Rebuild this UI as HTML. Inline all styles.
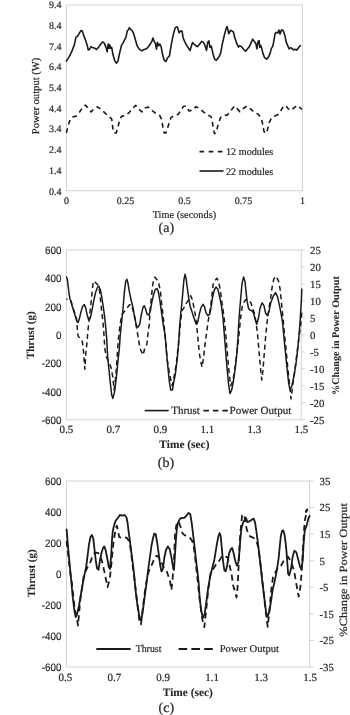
<!DOCTYPE html>
<html><head><meta charset="utf-8"><title>Chart</title>
<style>
html,body{margin:0;padding:0;background:#fff;}
body{width:350px;height:715px;overflow:hidden;font-family:"Liberation Serif", serif;}
svg{display:block;}
</style></head>
<body>
<svg width="350" height="715" viewBox="0 0 350 715" style="will-change:transform">
<rect x="0" y="0" width="350" height="715" fill="#fff"/>
<rect x="66.5" y="5.0" width="236.0" height="185.7" fill="none" stroke="#d3d3d3" stroke-width="1"/>
<text x="61.5" y="8.1" font-size="10" font-family='"Liberation Serif", serif' text-anchor="end" font-weight="normal" fill="#262626" stroke="#262626" stroke-width="0.2" text-rendering="geometricPrecision" >9.4</text>
<text x="61.5" y="28.83" font-size="10" font-family='"Liberation Serif", serif' text-anchor="end" font-weight="normal" fill="#262626" stroke="#262626" stroke-width="0.2" text-rendering="geometricPrecision" >8.4</text>
<text x="61.5" y="49.56" font-size="10" font-family='"Liberation Serif", serif' text-anchor="end" font-weight="normal" fill="#262626" stroke="#262626" stroke-width="0.2" text-rendering="geometricPrecision" >7.4</text>
<text x="61.5" y="70.28999999999999" font-size="10" font-family='"Liberation Serif", serif' text-anchor="end" font-weight="normal" fill="#262626" stroke="#262626" stroke-width="0.2" text-rendering="geometricPrecision" >6.4</text>
<text x="61.5" y="91.02" font-size="10" font-family='"Liberation Serif", serif' text-anchor="end" font-weight="normal" fill="#262626" stroke="#262626" stroke-width="0.2" text-rendering="geometricPrecision" >5.4</text>
<text x="61.5" y="111.75" font-size="10" font-family='"Liberation Serif", serif' text-anchor="end" font-weight="normal" fill="#262626" stroke="#262626" stroke-width="0.2" text-rendering="geometricPrecision" >4.4</text>
<text x="61.5" y="132.48" font-size="10" font-family='"Liberation Serif", serif' text-anchor="end" font-weight="normal" fill="#262626" stroke="#262626" stroke-width="0.2" text-rendering="geometricPrecision" >3.4</text>
<text x="61.5" y="153.21" font-size="10" font-family='"Liberation Serif", serif' text-anchor="end" font-weight="normal" fill="#262626" stroke="#262626" stroke-width="0.2" text-rendering="geometricPrecision" >2.4</text>
<text x="61.5" y="173.94" font-size="10" font-family='"Liberation Serif", serif' text-anchor="end" font-weight="normal" fill="#262626" stroke="#262626" stroke-width="0.2" text-rendering="geometricPrecision" >1.4</text>
<text x="61.5" y="194.67" font-size="10" font-family='"Liberation Serif", serif' text-anchor="end" font-weight="normal" fill="#262626" stroke="#262626" stroke-width="0.2" text-rendering="geometricPrecision" >0.4</text>
<text x="66.5" y="203.8" font-size="10" font-family='"Liberation Serif", serif' text-anchor="middle" font-weight="normal" fill="#262626" stroke="#262626" stroke-width="0.2" text-rendering="geometricPrecision" >0</text>
<text x="125.5" y="203.8" font-size="10" font-family='"Liberation Serif", serif' text-anchor="middle" font-weight="normal" fill="#262626" stroke="#262626" stroke-width="0.2" text-rendering="geometricPrecision" >0.25</text>
<text x="184.5" y="203.8" font-size="10" font-family='"Liberation Serif", serif' text-anchor="middle" font-weight="normal" fill="#262626" stroke="#262626" stroke-width="0.2" text-rendering="geometricPrecision" >0.5</text>
<text x="243.5" y="203.8" font-size="10" font-family='"Liberation Serif", serif' text-anchor="middle" font-weight="normal" fill="#262626" stroke="#262626" stroke-width="0.2" text-rendering="geometricPrecision" >0.75</text>
<text x="302.5" y="203.8" font-size="10" font-family='"Liberation Serif", serif' text-anchor="middle" font-weight="normal" fill="#262626" stroke="#262626" stroke-width="0.2" text-rendering="geometricPrecision" >1</text>
<text x="184.4" y="217.8" font-size="10.3" font-family='"Liberation Serif", serif' text-anchor="middle" font-weight="normal" fill="#262626" stroke="#262626" stroke-width="0.2" text-rendering="geometricPrecision" >Time (seconds)</text>
<text transform="translate(34.8,95.9) rotate(-90)" x="0" y="3.71" font-size="10.6" font-family='"Liberation Serif", serif' text-anchor="middle" font-weight="normal" fill="#262626" stroke="#262626" stroke-width="0.2" text-rendering="geometricPrecision" >Power output (W)</text>
<text x="166.3" y="232.3" font-size="14" font-family='"Liberation Serif", serif' text-anchor="middle" font-weight="normal" fill="#262626" stroke="#262626" stroke-width="0.2" text-rendering="geometricPrecision" >(a)</text>
<line x1="199.5" y1="151.6" x2="223.3" y2="151.6" stroke="#1a1a1a" stroke-width="1.6" stroke-dasharray="4.6 4.6"/>
<text x="226" y="155.2" font-size="10.2" font-family='"Liberation Serif", serif' text-anchor="start" font-weight="normal" fill="#262626" stroke="#262626" stroke-width="0.2" text-rendering="geometricPrecision" >12 modules</text>
<line x1="199.5" y1="171" x2="223.5" y2="171" stroke="#1a1a1a" stroke-width="1.6"/>
<text x="226" y="174.6" font-size="10.2" font-family='"Liberation Serif", serif' text-anchor="start" font-weight="normal" fill="#262626" stroke="#262626" stroke-width="0.2" text-rendering="geometricPrecision" >22 modules</text>
<polyline points="66.4,61.1 69.1,56.9 71.7,51.7 74.3,44.9 76.0,37.1 77.4,36.3 78.6,34.6 79.4,32.9 81.1,30.6 82.3,31.1 83.7,35.4 85.4,39.7 87.1,44.9 88.3,50.0 89.7,49.1 91.1,46.6 92.3,47.4 94.9,48.3 96.6,49.5 99.1,46.6 100.9,44.0 102.6,41.9 104.3,43.1 106.0,47.4 107.2,51.7 108.2,44.0 109.1,48.3 109.8,44.9 110.6,48.3 111.7,47.4 112.9,54.3 114.6,60.3 116.3,63.2 118.0,61.1 119.7,52.6 121.4,45.7 123.3,42.3 126.0,37.1 127.2,31.1 128.6,29.4 129.4,27.7 130.6,29.4 132.0,30.3 133.7,33.7 135.4,39.7 137.1,45.7 139.2,49.1 141.9,50.9 144.0,49.5 146.6,48.8 149.1,45.7 151.7,41.9 152.9,38.0 154.3,41.4 155.5,44.0 156.5,49.1 157.4,42.3 158.6,45.7 159.8,44.0 161.1,46.6 162.5,54.3 164.2,60.3 165.9,61.5 167.7,57.7 169.4,56.0 171.1,45.7 173.1,35.4 175.2,27.7 176.9,26.9 177.7,27.7 179.1,32.9 180.3,31.1 182.0,31.1 183.2,38.0 184.6,41.4 186.6,45.4 188.9,48.8 190.1,50.5 191.4,45.7 192.6,42.6 194.0,44.0 196.2,46.1 197.4,46.6 199.7,44.0 201.7,41.4 203.4,42.3 205.1,45.7 206.5,50.5 207.7,42.3 208.9,40.9 209.9,47.4 211.3,46.1 212.9,53.4 214.6,59.1 216.3,60.3 218.9,56.9 220.6,53.4 222.3,44.0 224.3,35.4 226.1,28.6 227.1,26.5 228.8,33.7 230.5,30.3 232.2,31.1 233.4,32.0 234.6,37.1 236.3,42.3 238.5,47.1 239.7,45.7 241.4,46.6 243.1,48.8 245.4,51.2 247.4,49.1 249.1,47.1 250.9,43.1 252.6,39.2 254.3,41.4 256.0,44.0 256.9,48.8 258.1,41.4 259.1,40.6 259.8,47.4 260.8,45.4 261.5,47.4 262.9,53.4 264.6,57.7 266.6,59.1 268.3,57.4 270.1,53.4 271.4,48.4 272.9,46.1 274.0,39.9 275.1,33.6 276.3,32.4 277.8,33.0 278.9,30.1 280.1,34.1 281.4,30.1 282.8,30.1 283.9,32.4 285.1,36.4 286.2,42.1 287.7,45.6 289.2,49.0 290.6,47.6 291.9,48.4 293.4,49.9 294.9,49.2 296.5,50.1 298.0,48.4 299.5,46.5 300.3,45.6" fill="none" stroke="#1a1a1a" stroke-width="1.6" stroke-linejoin="round" stroke-linecap="round"/>
<polyline points="66.4,132.9 67.8,126.9 70.0,120.0 72.2,117.1 76.3,116.1 79.4,112.3 82.5,107.5 85.4,105.1 88.0,108.0 91.1,111.9 94.0,108.9 97.4,106.8 100.9,109.2 105.1,113.1 108.9,116.1 111.7,119.1 112.9,128.6 114.1,132.9 116.3,132.9 118.0,126.9 119.7,120.0 121.4,116.6 124.0,115.7 126.0,115.4 129.4,112.3 132.9,108.0 135.8,105.4 138.5,108.9 141.9,111.9 144.9,108.0 148.3,107.1 152.2,110.6 156.0,113.7 159.8,115.7 161.5,119.1 162.9,126.9 164.2,132.9 165.9,132.9 167.7,127.7 169.7,120.9 171.1,117.4 174.5,115.7 178.3,114.3 181.1,109.7 183.7,106.3 186.6,106.3 188.9,110.9 192.3,110.2 196.2,106.6 200.0,108.9 203.4,111.9 207.7,114.9 211.1,116.6 212.3,121.7 213.4,129.4 214.6,133.7 216.3,132.0 218.0,125.1 220.6,117.4 223.1,115.7 227.4,114.9 230.9,110.6 234.5,106.0 237.1,108.5 239.8,111.6 243.3,108.5 246.8,106.0 250.5,108.9 254.2,112.2 258.3,114.3 261.2,117.8 262.9,125.0 263.9,131.1 265.3,133.6 267.4,130.1 269.0,122.9 271.1,118.8 274.2,116.3 277.7,114.7 280.3,111.6 283.4,106.5 285.5,105.4 288.0,108.5 290.6,110.6 293.7,108.1 296.8,105.6 299.9,107.5 302.0,109.5" fill="none" stroke="#1a1a1a" stroke-width="1.6" stroke-dasharray="4.8 3.8" stroke-linejoin="round"/>
<rect x="66.4" y="250.0" width="234.9" height="169.8" fill="none" stroke="#d3d3d3" stroke-width="1"/>
<text transform="translate(61.5,253.79999999999998) scale(0.91,1)" x="0" y="0" font-size="10.8" font-family='"Liberation Sans", sans-serif' text-anchor="end" fill="#262626" stroke="#262626" stroke-width="0.16" text-rendering="geometricPrecision">600</text>
<text transform="translate(61.5,282.17) scale(0.91,1)" x="0" y="0" font-size="10.8" font-family='"Liberation Sans", sans-serif' text-anchor="end" fill="#262626" stroke="#262626" stroke-width="0.16" text-rendering="geometricPrecision">400</text>
<text transform="translate(61.5,310.54) scale(0.91,1)" x="0" y="0" font-size="10.8" font-family='"Liberation Sans", sans-serif' text-anchor="end" fill="#262626" stroke="#262626" stroke-width="0.16" text-rendering="geometricPrecision">200</text>
<text transform="translate(61.5,338.91) scale(0.91,1)" x="0" y="0" font-size="10.8" font-family='"Liberation Sans", sans-serif' text-anchor="end" fill="#262626" stroke="#262626" stroke-width="0.16" text-rendering="geometricPrecision">0</text>
<text transform="translate(61.5,367.28000000000003) scale(0.91,1)" x="0" y="0" font-size="10.8" font-family='"Liberation Sans", sans-serif' text-anchor="end" fill="#262626" stroke="#262626" stroke-width="0.16" text-rendering="geometricPrecision">-200</text>
<text transform="translate(61.5,395.65) scale(0.91,1)" x="0" y="0" font-size="10.8" font-family='"Liberation Sans", sans-serif' text-anchor="end" fill="#262626" stroke="#262626" stroke-width="0.16" text-rendering="geometricPrecision">-400</text>
<text transform="translate(61.5,424.02) scale(0.91,1)" x="0" y="0" font-size="10.8" font-family='"Liberation Sans", sans-serif' text-anchor="end" fill="#262626" stroke="#262626" stroke-width="0.16" text-rendering="geometricPrecision">-600</text>
<line x1="301.3" y1="250.0" x2="304.9" y2="250.0" stroke="#d3d3d3" stroke-width="1"/>
<text x="310" y="253.5" font-size="10.8" font-family='"Liberation Serif", serif' text-anchor="start" font-weight="normal" fill="#262626" stroke="#262626" stroke-width="0.2" text-rendering="geometricPrecision" >25</text>
<line x1="301.3" y1="267.0" x2="304.9" y2="267.0" stroke="#d3d3d3" stroke-width="1"/>
<text x="310" y="270.54999999999995" font-size="10.8" font-family='"Liberation Serif", serif' text-anchor="start" font-weight="normal" fill="#262626" stroke="#262626" stroke-width="0.2" text-rendering="geometricPrecision" >20</text>
<line x1="301.3" y1="284.0" x2="304.9" y2="284.0" stroke="#d3d3d3" stroke-width="1"/>
<text x="310" y="287.59999999999997" font-size="10.8" font-family='"Liberation Serif", serif' text-anchor="start" font-weight="normal" fill="#262626" stroke="#262626" stroke-width="0.2" text-rendering="geometricPrecision" >15</text>
<line x1="301.3" y1="300.9" x2="304.9" y2="300.9" stroke="#d3d3d3" stroke-width="1"/>
<text x="310" y="304.65" font-size="10.8" font-family='"Liberation Serif", serif' text-anchor="start" font-weight="normal" fill="#262626" stroke="#262626" stroke-width="0.2" text-rendering="geometricPrecision" >10</text>
<line x1="301.3" y1="317.9" x2="304.9" y2="317.9" stroke="#d3d3d3" stroke-width="1"/>
<text x="310" y="321.7" font-size="10.8" font-family='"Liberation Serif", serif' text-anchor="start" font-weight="normal" fill="#262626" stroke="#262626" stroke-width="0.2" text-rendering="geometricPrecision" >5</text>
<line x1="301.3" y1="334.9" x2="304.9" y2="334.9" stroke="#d3d3d3" stroke-width="1"/>
<text x="310" y="338.75" font-size="10.8" font-family='"Liberation Serif", serif' text-anchor="start" font-weight="normal" fill="#262626" stroke="#262626" stroke-width="0.2" text-rendering="geometricPrecision" >0</text>
<line x1="301.3" y1="351.9" x2="304.9" y2="351.9" stroke="#d3d3d3" stroke-width="1"/>
<text x="310" y="355.79999999999995" font-size="10.8" font-family='"Liberation Serif", serif' text-anchor="start" font-weight="normal" fill="#262626" stroke="#262626" stroke-width="0.2" text-rendering="geometricPrecision" >-5</text>
<line x1="301.3" y1="368.9" x2="304.9" y2="368.9" stroke="#d3d3d3" stroke-width="1"/>
<text x="310" y="372.84999999999997" font-size="10.8" font-family='"Liberation Serif", serif' text-anchor="start" font-weight="normal" fill="#262626" stroke="#262626" stroke-width="0.2" text-rendering="geometricPrecision" >-10</text>
<line x1="301.3" y1="385.8" x2="304.9" y2="385.8" stroke="#d3d3d3" stroke-width="1"/>
<text x="310" y="389.9" font-size="10.8" font-family='"Liberation Serif", serif' text-anchor="start" font-weight="normal" fill="#262626" stroke="#262626" stroke-width="0.2" text-rendering="geometricPrecision" >-15</text>
<line x1="301.3" y1="402.8" x2="304.9" y2="402.8" stroke="#d3d3d3" stroke-width="1"/>
<text x="310" y="406.95" font-size="10.8" font-family='"Liberation Serif", serif' text-anchor="start" font-weight="normal" fill="#262626" stroke="#262626" stroke-width="0.2" text-rendering="geometricPrecision" >-20</text>
<line x1="301.3" y1="419.8" x2="304.9" y2="419.8" stroke="#d3d3d3" stroke-width="1"/>
<text x="310" y="424.0" font-size="10.8" font-family='"Liberation Serif", serif' text-anchor="start" font-weight="normal" fill="#262626" stroke="#262626" stroke-width="0.2" text-rendering="geometricPrecision" >-25</text>
<text x="66.4" y="433.0" font-size="11" font-family='"Liberation Serif", serif' text-anchor="middle" font-weight="normal" fill="#262626" stroke="#262626" stroke-width="0.2" text-rendering="geometricPrecision" >0.5</text>
<text x="113.38000000000001" y="433.0" font-size="11" font-family='"Liberation Serif", serif' text-anchor="middle" font-weight="normal" fill="#262626" stroke="#262626" stroke-width="0.2" text-rendering="geometricPrecision" >0.7</text>
<text x="160.36" y="433.0" font-size="11" font-family='"Liberation Serif", serif' text-anchor="middle" font-weight="normal" fill="#262626" stroke="#262626" stroke-width="0.2" text-rendering="geometricPrecision" >0.9</text>
<text x="207.34" y="433.0" font-size="11" font-family='"Liberation Serif", serif' text-anchor="middle" font-weight="normal" fill="#262626" stroke="#262626" stroke-width="0.2" text-rendering="geometricPrecision" >1.1</text>
<text x="254.32000000000002" y="433.0" font-size="11" font-family='"Liberation Serif", serif' text-anchor="middle" font-weight="normal" fill="#262626" stroke="#262626" stroke-width="0.2" text-rendering="geometricPrecision" >1.3</text>
<text x="301.3" y="433.0" font-size="11" font-family='"Liberation Serif", serif' text-anchor="middle" font-weight="normal" fill="#262626" stroke="#262626" stroke-width="0.2" text-rendering="geometricPrecision" >1.5</text>
<text transform="translate(30.6,335.2) rotate(-90)" x="0" y="3.85" font-size="11" font-family='"Liberation Serif", serif' text-anchor="middle" font-weight="bold" fill="#262626" stroke="#262626" stroke-width="0.05" text-rendering="geometricPrecision" textLength="47.6" lengthAdjust="spacingAndGlyphs">Thrust (g)</text>
<text transform="translate(335.8,335.6) rotate(-90)" x="0" y="3.57" font-size="10.2" font-family='"Liberation Serif", serif' text-anchor="middle" font-weight="bold" fill="#262626" stroke="#262626" stroke-width="0.05" text-rendering="geometricPrecision" textLength="118.8" lengthAdjust="spacingAndGlyphs">%Change in Power Output</text>
<text x="184.4" y="448.0" font-size="11.4" font-family='"Liberation Serif", serif' text-anchor="middle" font-weight="bold" fill="#262626" stroke="#262626" stroke-width="0.05" text-rendering="geometricPrecision" >Time (sec)</text>
<text x="166" y="466.6" font-size="14" font-family='"Liberation Serif", serif' text-anchor="middle" font-weight="normal" fill="#262626" stroke="#262626" stroke-width="0.2" text-rendering="geometricPrecision" >(b)</text>
<line x1="144.7" y1="410.6" x2="168.7" y2="410.6" stroke="#1a1a1a" stroke-width="1.6"/>
<text x="171.2" y="414.3" font-size="11" font-family='"Liberation Serif", serif' text-anchor="start" font-weight="normal" fill="#262626" stroke="#262626" stroke-width="0.2" text-rendering="geometricPrecision" >Thrust</text>
<line x1="203.4" y1="410.6" x2="228" y2="410.6" stroke="#1a1a1a" stroke-width="1.6" stroke-dasharray="5.5 4"/>
<text x="229.5" y="414.3" font-size="11" font-family='"Liberation Serif", serif' text-anchor="start" font-weight="normal" fill="#262626" stroke="#262626" stroke-width="0.2" text-rendering="geometricPrecision" textLength="61.8" lengthAdjust="spacingAndGlyphs">Power Output</text>
<polyline points="66.6,276.9 67.4,280.0 68.3,287.0 69.2,294.5 70.0,299.0 71.0,301.5 72.0,305.5 73.3,309.3 74.7,314.3 76.9,321.4 78.1,322.5 79.4,318.6 80.9,312.1 82.6,306.4 84.3,304.6 85.7,307.9 86.9,313.6 88.3,318.9 89.4,320.0 90.9,315.7 92.3,308.6 94.0,299.3 95.7,292.1 97.6,287.1 99.0,286.4 100.4,290.0 101.9,297.9 103.3,307.1 104.7,317.1 105.7,327.1 106.6,337.1 107.7,357.3 108.9,369.3 110.3,383.0 111.7,395.0 112.9,398.4 114.6,391.6 116.3,377.9 118.0,360.7 119.3,348.6 120.3,334.3 121.4,324.3 122.9,310.0 124.3,292.9 125.7,281.4 126.9,279.3 127.9,282.9 129.3,291.4 131.1,300.0 132.9,307.1 134.6,317.1 136.4,325.7 137.9,327.1 139.7,324.3 141.4,314.3 143.1,307.1 144.3,305.7 145.7,309.3 147.1,314.3 148.9,315.0 150.3,311.4 151.7,302.9 153.6,294.3 155.4,289.3 157.1,288.6 158.1,290.7 159.6,298.6 161.0,308.6 162.4,318.6 163.9,328.6 165.0,334.3 166.4,351.4 167.9,367.1 169.3,381.4 170.7,390.0 172.4,390.0 173.6,382.9 175.3,374.3 177.1,360.0 178.6,344.3 179.6,327.1 180.7,314.3 181.9,302.9 182.9,291.4 183.9,280.0 185.0,274.3 186.1,278.6 187.1,286.4 188.6,297.1 190.0,305.7 191.9,311.4 193.6,317.1 195.7,322.9 196.7,324.3 197.9,321.4 199.3,314.3 201.2,307.1 203.1,304.3 204.6,307.1 206.0,312.9 207.9,315.7 209.7,314.3 211.1,307.1 212.6,297.1 214.3,290.0 216.0,287.1 217.9,289.3 219.7,297.1 221.4,305.7 223.0,318.0 224.3,334.3 225.7,351.4 227.1,368.6 228.6,384.3 230.0,393.6 231.7,390.0 233.6,380.0 235.4,367.1 236.9,352.9 237.9,338.6 238.8,322.0 239.7,310.0 240.9,295.7 242.1,282.9 243.6,277.1 245.0,281.4 246.0,291.4 247.1,301.4 248.6,308.6 250.5,310.4 252.3,311.0 253.5,313.0 254.9,318.3 256.7,324.3 258.4,318.3 260.1,308.0 262.1,302.9 263.9,305.4 265.6,313.1 267.3,315.7 269.0,311.4 270.7,302.9 273.3,296.0 275.5,292.6 277.6,296.9 279.3,304.6 281.0,313.1 282.7,323.4 283.6,333.7 285.3,350.9 287.0,368.0 288.7,383.4 289.9,389.4 291.6,386.9 293.9,376.6 296.1,362.9 298.1,345.7 299.6,328.0 300.7,312.0 301.5,298.0 301.8,289.0" fill="none" stroke="#1a1a1a" stroke-width="1.5" stroke-linejoin="round" stroke-linecap="round"/>
<polyline points="66.4,299.3 68.2,299.3 69.9,299.6 71.1,301.5 71.9,304.3 72.6,307.9 73.7,310.0 75.4,314.3 76.6,319.3 77.1,325.7 77.6,332.9 78.3,336.4 80.4,338.6 82.3,341.4 83.2,348.0 84.2,360.7 84.9,369.3 85.9,352.1 87.1,341.9 87.6,334.3 88.6,324.3 89.7,314.3 90.9,304.3 91.9,294.3 92.9,284.3 93.7,281.1 95.7,282.9 98.0,285.0 99.4,290.0 100.4,298.6 101.4,308.6 102.6,318.6 103.8,332.0 104.8,348.7 106.5,357.3 108.9,362.4 111.1,367.6 112.9,377.9 114.1,389.9 115.4,379.6 116.3,369.3 117.1,357.3 118.3,340.0 119.3,331.4 120.3,322.9 122.1,314.3 125.7,310.0 129.3,305.0 131.1,304.3 133.0,310.0 135.0,318.0 136.4,327.1 137.9,335.7 139.3,344.3 140.7,350.0 143.1,355.0 145.0,347.1 146.9,344.3 147.9,334.3 149.3,324.3 150.0,310.0 151.4,297.1 152.6,285.7 153.6,280.0 155.0,277.1 157.1,280.0 159.0,284.3 160.4,291.4 161.4,301.4 162.9,314.3 164.3,327.1 165.7,341.4 167.1,358.6 169.3,372.9 172.1,385.7 174.3,375.7 176.4,362.9 177.9,348.6 179.3,336.0 180.7,320.0 182.1,310.7 184.3,307.1 186.1,303.6 189.3,298.6 190.7,295.7 191.9,298.6 193.3,304.3 195.0,312.9 196.4,322.9 197.6,335.0 199.3,352.9 200.7,361.4 202.1,367.1 203.6,357.1 205.0,344.3 206.4,334.3 207.9,322.9 209.3,314.3 210.7,305.7 212.1,294.3 213.1,284.3 214.6,281.1 216.9,278.3 218.6,281.4 220.3,290.0 221.4,298.6 222.9,308.6 224.0,317.1 225.0,325.7 226.4,341.4 227.9,360.0 229.3,374.3 230.7,385.7 232.6,381.4 234.3,372.9 236.4,357.1 238.3,341.4 239.3,331.4 240.7,317.1 242.1,307.1 243.6,302.9 245.4,300.0 247.1,299.3 249.3,301.1 251.0,302.9 252.7,308.9 254.4,313.1 256.1,323.4 257.3,332.0 258.4,344.0 259.6,357.7 260.8,371.4 261.8,380.0 263.0,369.7 264.2,354.3 265.6,337.1 266.4,328.6 267.6,318.3 269.0,308.0 270.7,297.7 272.1,287.4 273.8,278.9 275.9,276.3 278.4,280.6 280.1,289.1 281.3,301.1 282.7,314.9 283.6,325.1 285.3,342.3 287.0,359.4 288.7,376.6 290.4,392.0 291.0,398.9 292.7,385.1 294.7,371.4 296.8,354.3 299.0,337.1 300.7,325.1 301.8,312.6" fill="none" stroke="#1a1a1a" stroke-width="1.5" stroke-dasharray="5 3.5" stroke-dashoffset="3.8" stroke-linejoin="round"/>
<rect x="66.5" y="481.0" width="243.10000000000002" height="186.0" fill="none" stroke="#d3d3d3" stroke-width="1"/>
<text transform="translate(61.5,485.1) scale(0.91,1)" x="0" y="0" font-size="10.8" font-family='"Liberation Sans", sans-serif' text-anchor="end" fill="#262626" stroke="#262626" stroke-width="0.16" text-rendering="geometricPrecision">600</text>
<text transform="translate(61.5,516.07) scale(0.91,1)" x="0" y="0" font-size="10.8" font-family='"Liberation Sans", sans-serif' text-anchor="end" fill="#262626" stroke="#262626" stroke-width="0.16" text-rendering="geometricPrecision">400</text>
<text transform="translate(61.5,547.0400000000001) scale(0.91,1)" x="0" y="0" font-size="10.8" font-family='"Liberation Sans", sans-serif' text-anchor="end" fill="#262626" stroke="#262626" stroke-width="0.16" text-rendering="geometricPrecision">200</text>
<text transform="translate(61.5,578.01) scale(0.91,1)" x="0" y="0" font-size="10.8" font-family='"Liberation Sans", sans-serif' text-anchor="end" fill="#262626" stroke="#262626" stroke-width="0.16" text-rendering="geometricPrecision">0</text>
<text transform="translate(61.5,608.98) scale(0.91,1)" x="0" y="0" font-size="10.8" font-family='"Liberation Sans", sans-serif' text-anchor="end" fill="#262626" stroke="#262626" stroke-width="0.16" text-rendering="geometricPrecision">-200</text>
<text transform="translate(61.5,639.95) scale(0.91,1)" x="0" y="0" font-size="10.8" font-family='"Liberation Sans", sans-serif' text-anchor="end" fill="#262626" stroke="#262626" stroke-width="0.16" text-rendering="geometricPrecision">-400</text>
<text transform="translate(61.5,670.92) scale(0.91,1)" x="0" y="0" font-size="10.8" font-family='"Liberation Sans", sans-serif' text-anchor="end" fill="#262626" stroke="#262626" stroke-width="0.16" text-rendering="geometricPrecision">-600</text>
<line x1="309.6" y1="481.0" x2="313.8" y2="481.0" stroke="#d3d3d3" stroke-width="1"/>
<text x="319.5" y="484.8" font-size="10.8" font-family='"Liberation Serif", serif' text-anchor="start" font-weight="normal" fill="#262626" stroke="#262626" stroke-width="0.2" text-rendering="geometricPrecision" >35</text>
<line x1="309.6" y1="507.6" x2="313.8" y2="507.6" stroke="#d3d3d3" stroke-width="1"/>
<text x="319.5" y="511.37142857142857" font-size="10.8" font-family='"Liberation Serif", serif' text-anchor="start" font-weight="normal" fill="#262626" stroke="#262626" stroke-width="0.2" text-rendering="geometricPrecision" >25</text>
<line x1="309.6" y1="534.1" x2="313.8" y2="534.1" stroke="#d3d3d3" stroke-width="1"/>
<text x="319.5" y="537.9428571428571" font-size="10.8" font-family='"Liberation Serif", serif' text-anchor="start" font-weight="normal" fill="#262626" stroke="#262626" stroke-width="0.2" text-rendering="geometricPrecision" >15</text>
<line x1="309.6" y1="560.7" x2="313.8" y2="560.7" stroke="#d3d3d3" stroke-width="1"/>
<text x="319.5" y="564.5142857142856" font-size="10.8" font-family='"Liberation Serif", serif' text-anchor="start" font-weight="normal" fill="#262626" stroke="#262626" stroke-width="0.2" text-rendering="geometricPrecision" >5</text>
<line x1="309.6" y1="587.3" x2="313.8" y2="587.3" stroke="#d3d3d3" stroke-width="1"/>
<text x="319.5" y="591.0857142857143" font-size="10.8" font-family='"Liberation Serif", serif' text-anchor="start" font-weight="normal" fill="#262626" stroke="#262626" stroke-width="0.2" text-rendering="geometricPrecision" >-5</text>
<line x1="309.6" y1="613.9" x2="313.8" y2="613.9" stroke="#d3d3d3" stroke-width="1"/>
<text x="319.5" y="617.6571428571428" font-size="10.8" font-family='"Liberation Serif", serif' text-anchor="start" font-weight="normal" fill="#262626" stroke="#262626" stroke-width="0.2" text-rendering="geometricPrecision" >-15</text>
<line x1="309.6" y1="640.4" x2="313.8" y2="640.4" stroke="#d3d3d3" stroke-width="1"/>
<text x="319.5" y="644.2285714285714" font-size="10.8" font-family='"Liberation Serif", serif' text-anchor="start" font-weight="normal" fill="#262626" stroke="#262626" stroke-width="0.2" text-rendering="geometricPrecision" >-25</text>
<line x1="309.6" y1="667.0" x2="313.8" y2="667.0" stroke="#d3d3d3" stroke-width="1"/>
<text x="319.5" y="670.8" font-size="10.8" font-family='"Liberation Serif", serif' text-anchor="start" font-weight="normal" fill="#262626" stroke="#262626" stroke-width="0.2" text-rendering="geometricPrecision" >-35</text>
<text x="65.4" y="680.6" font-size="11" font-family='"Liberation Serif", serif' text-anchor="middle" font-weight="normal" fill="#262626" stroke="#262626" stroke-width="0.2" text-rendering="geometricPrecision" >0.5</text>
<text x="114.32000000000001" y="680.6" font-size="11" font-family='"Liberation Serif", serif' text-anchor="middle" font-weight="normal" fill="#262626" stroke="#262626" stroke-width="0.2" text-rendering="geometricPrecision" >0.7</text>
<text x="163.24" y="680.6" font-size="11" font-family='"Liberation Serif", serif' text-anchor="middle" font-weight="normal" fill="#262626" stroke="#262626" stroke-width="0.2" text-rendering="geometricPrecision" >0.9</text>
<text x="212.16" y="680.6" font-size="11" font-family='"Liberation Serif", serif' text-anchor="middle" font-weight="normal" fill="#262626" stroke="#262626" stroke-width="0.2" text-rendering="geometricPrecision" >1.1</text>
<text x="261.08000000000004" y="680.6" font-size="11" font-family='"Liberation Serif", serif' text-anchor="middle" font-weight="normal" fill="#262626" stroke="#262626" stroke-width="0.2" text-rendering="geometricPrecision" >1.3</text>
<text x="310.0" y="680.6" font-size="11" font-family='"Liberation Serif", serif' text-anchor="middle" font-weight="normal" fill="#262626" stroke="#262626" stroke-width="0.2" text-rendering="geometricPrecision" >1.5</text>
<text transform="translate(30.8,573.3) rotate(-90)" x="0" y="3.85" font-size="11" font-family='"Liberation Serif", serif' text-anchor="middle" font-weight="bold" fill="#262626" stroke="#262626" stroke-width="0.05" text-rendering="geometricPrecision" textLength="47.8" lengthAdjust="spacingAndGlyphs">Thrust (g)</text>
<text transform="translate(342.7,569.9) rotate(-90)" x="0" y="3.85" font-size="11" font-family='"Liberation Serif", serif' text-anchor="middle" font-weight="normal" fill="#262626" stroke="#262626" stroke-width="0.2" text-rendering="geometricPrecision" textLength="133.5" lengthAdjust="spacingAndGlyphs">%Change in Power Output</text>
<text x="187.8" y="696.2" font-size="11.4" font-family='"Liberation Serif", serif' text-anchor="middle" font-weight="bold" fill="#262626" stroke="#262626" stroke-width="0.05" text-rendering="geometricPrecision" >Time (sec)</text>
<text x="166.3" y="712" font-size="14" font-family='"Liberation Serif", serif' text-anchor="middle" font-weight="normal" fill="#262626" stroke="#262626" stroke-width="0.2" text-rendering="geometricPrecision" >(c)</text>
<line x1="96.3" y1="649" x2="130.6" y2="649" stroke="#1a1a1a" stroke-width="2"/>
<text x="135.7" y="651.6" font-size="10.3" font-family='"Liberation Serif", serif' text-anchor="start" font-weight="normal" fill="#262626" stroke="#262626" stroke-width="0.2" text-rendering="geometricPrecision" textLength="25.7" lengthAdjust="spacingAndGlyphs">Thrust</text>
<line x1="178.6" y1="649" x2="212.9" y2="649" stroke="#1a1a1a" stroke-width="2" stroke-dasharray="8.6 4.2"/>
<text x="219.7" y="651.6" font-size="10.3" font-family='"Liberation Serif", serif' text-anchor="start" font-weight="normal" fill="#262626" stroke="#262626" stroke-width="0.2" text-rendering="geometricPrecision" textLength="59.3" lengthAdjust="spacingAndGlyphs">Power Output</text>
<polyline points="66.6,529.3 67.6,541.4 68.6,552.9 69.7,565.0 71.1,579.0 72.6,596.0 74.3,610.0 75.7,617.1 77.1,614.3 79.0,605.7 80.5,597.0 82.0,588.0 84.0,577.1 86.1,567.1 87.6,555.7 89.0,544.3 90.4,537.1 91.9,535.0 93.3,538.6 94.4,548.6 95.7,560.0 97.1,568.6 98.6,569.7 100.0,560.0 101.5,553.0 103.0,548.0 104.3,546.4 105.7,550.5 107.2,558.0 108.8,567.0 110.0,569.0 111.2,555.0 112.0,540.0 112.8,531.0 114.0,525.7 115.7,520.6 117.9,518.0 119.9,515.0 122.4,515.6 124.6,515.0 126.5,517.5 127.6,523.0 128.6,531.4 130.0,541.4 131.4,552.9 132.9,564.3 134.3,576.0 135.5,590.0 137.1,602.9 139.0,614.3 140.4,620.0 141.9,617.1 143.3,607.1 145.0,594.3 146.7,581.4 148.4,568.0 150.2,555.0 151.6,545.0 152.9,538.6 154.3,533.6 155.7,534.0 157.1,542.0 158.6,553.0 160.0,564.0 161.4,571.4 162.9,569.0 164.3,558.0 166.0,550.0 167.9,546.4 169.7,549.3 171.4,557.1 173.1,567.1 174.0,570.0 175.0,554.3 176.0,538.6 176.9,528.6 177.9,522.9 180.0,518.6 182.1,517.9 184.3,517.9 186.4,515.7 188.6,512.9 190.3,514.3 191.7,522.9 193.1,534.3 194.6,547.1 196.0,560.0 197.4,571.4 198.6,582.0 199.6,597.1 201.1,610.0 202.9,617.9 204.6,614.3 206.4,601.4 208.3,587.1 210.3,575.7 212.1,568.6 214.3,560.0 215.7,551.4 217.1,542.9 218.5,536.0 219.6,533.0 220.7,536.0 221.7,547.1 222.9,560.0 224.3,570.0 225.7,571.4 227.1,565.7 228.9,554.3 230.7,549.3 232.1,547.9 233.6,552.9 235.0,560.0 236.9,565.7 238.3,562.9 239.3,552.9 240.3,540.0 241.4,528.6 242.9,522.9 244.6,520.0 246.0,517.9 247.4,522.1 249.3,521.4 251.4,520.0 253.6,518.6 255.0,522.1 256.4,531.4 257.9,542.9 259.3,554.3 260.7,567.0 262.4,582.5 264.2,596.7 265.9,610.9 267.2,617.1 269.1,612.6 270.9,602.0 272.7,589.6 274.8,580.7 276.9,570.1 278.7,557.7 279.8,546.0 280.8,536.4 282.0,531.0 283.2,530.4 284.4,534.0 285.6,542.4 286.8,555.0 288.1,573.7 289.3,575.4 291.1,568.3 292.5,557.7 294.3,550.6 296.4,552.4 298.2,559.5 300.0,566.6 301.4,569.2 302.8,559.5 303.5,545.0 304.8,530.4 306.6,525.6 308.4,518.4 309.6,516.0" fill="none" stroke="#1a1a1a" stroke-width="1.8" stroke-linejoin="round" stroke-linecap="round"/>
<line x1="306.0" y1="511.8" x2="307.1" y2="509.6" stroke="#1a1a1a" stroke-width="2.2" stroke-linecap="round"/>
<polyline points="66.5,541.0 68.0,553.0 69.5,566.0 70.8,577.0 71.9,583.0 73.3,595.7 74.7,608.6 76.9,618.6 78.0,625.7 79.0,614.3 80.4,598.6 81.9,588.6 83.3,578.6 84.0,574.3 86.1,570.0 88.3,565.7 90.4,562.1 91.9,557.9 94.0,553.6 96.1,552.6 98.3,553.1 100.0,555.7 101.9,560.7 103.3,567.1 104.7,572.9 106.1,580.0 107.6,587.0 109.0,581.7 110.1,576.1 111.2,566.0 112.5,552.0 113.8,540.0 115.5,530.0 116.9,525.7 117.9,530.7 119.3,537.1 122.1,537.9 124.3,537.1 126.9,537.9 128.3,540.0 130.0,544.3 131.5,556.0 133.0,568.0 134.5,580.0 136.0,592.0 137.5,605.0 139.3,620.0 141.0,624.3 143.6,601.4 145.7,585.7 147.9,574.3 150.0,567.9 152.1,564.3 154.3,558.6 156.4,555.7 158.6,557.1 161.0,561.0 163.0,566.0 165.0,569.0 167.0,572.0 169.0,578.0 170.0,581.4 171.4,590.0 172.5,580.0 174.0,560.0 175.0,534.3 176.4,525.0 178.6,521.4 181.4,529.3 182.6,533.6 186.4,536.4 190.0,537.9 192.1,540.7 193.6,545.7 195.0,556.0 196.5,570.0 198.0,584.0 199.5,598.0 201.0,610.0 202.5,620.0 204.3,627.1 206.0,612.0 208.0,592.0 210.7,572.9 215.7,565.0 218.3,562.1 222.4,555.7 227.6,557.4 229.5,565.0 231.6,574.6 233.3,586.0 235.2,592.0 236.5,597.5 237.5,588.0 238.2,575.0 239.0,557.0 240.1,537.0 241.0,526.0 242.1,515.7 244.3,514.3 245.7,524.3 246.9,530.0 250.0,536.4 253.6,537.9 256.4,541.4 257.9,545.7 259.5,556.0 261.0,568.0 262.5,582.0 264.0,596.0 265.5,610.0 267.7,626.8 269.5,610.0 271.0,592.0 273.0,577.2 278.3,566.6 281.0,565.7 285.4,557.7 288.1,556.8 291.6,563.0 294.3,571.9 296.4,584.3 298.7,596.7 300.5,586.1 301.4,575.4 302.8,550.6 304.2,528.0 305.0,519.6 306.0,514.8 307.2,510.0" fill="none" stroke="#1a1a1a" stroke-width="1.8" stroke-dasharray="6 4" stroke-linejoin="round"/>
</svg>
</body></html>
